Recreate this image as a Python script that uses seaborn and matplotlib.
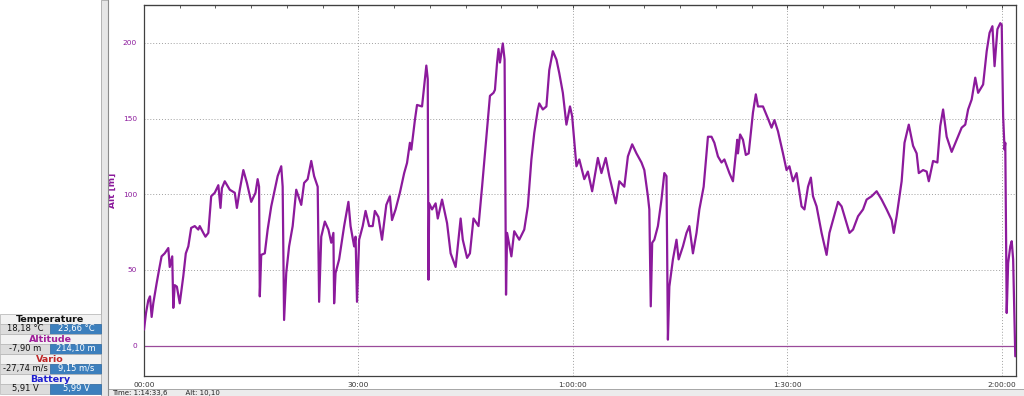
import matplotlib
matplotlib.use("Agg")
import matplotlib.pyplot as plt
import matplotlib.patches as mpatches
from matplotlib.ticker import MultipleLocator
import seaborn as sns
import pandas as pd

# ---- data (time in minutes, altitude in m) ----
minutes = [0.0, 0.28, 0.6, 0.84, 1.07, 1.3, 1.76, 2.14, 2.46, 2.9, 3.4, 3.6, 3.95, 4.1, 4.3, 4.6,
           5.0, 5.5, 5.85, 6.2, 6.6, 7.1, 7.6, 7.8, 8.3, 8.6, 9.0, 9.4, 9.9, 10.4, 10.7, 10.9,
           11.3, 12.0, 12.7, 13.0, 13.4, 13.9, 14.4, 15.0, 15.6, 15.9, 16.1, 16.2, 16.4, 16.9,
           17.3, 17.8, 18.2, 18.7, 19.2, 19.4, 19.6, 19.9, 20.3, 20.8, 21.3, 22.0, 22.4, 22.9,
           23.4, 23.8, 24.3, 24.5, 24.8, 25.3, 25.8, 26.2, 26.5, 26.6, 26.8, 27.3, 28.0, 28.6,
           28.9, 29.4, 29.6, 29.8, 30.1, 30.6, 31.0, 31.5, 32.0, 32.3, 32.8, 33.3, 33.9, 34.4,
           34.7, 35.2, 35.8, 36.4, 36.8, 37.2, 37.4, 37.9, 38.2, 38.9, 39.5, 39.7, 39.8, 39.9,
           40.3, 40.8, 41.1, 41.7, 42.4, 42.9, 43.6, 43.9, 44.3, 44.6, 45.2, 45.6, 46.1, 46.8,
           47.3, 48.0, 48.4, 48.9, 49.1, 49.4, 49.6, 49.8, 50.2, 50.45, 50.65, 50.8, 51.4, 51.8,
           52.5, 53.2, 53.7, 54.2, 54.6, 55.1, 55.3, 55.8, 56.3, 56.7, 57.2, 57.7, 58.1, 58.6,
           59.1, 59.6, 59.9, 60.5, 60.9, 61.6, 62.1, 62.7, 63.5, 64.0, 64.6, 65.1, 66.0, 66.5,
           67.2, 67.7, 68.3, 68.9, 69.6, 70.0, 70.5, 70.7, 70.9, 71.1, 71.4, 71.9, 72.4, 72.8,
           73.1, 73.3, 73.5, 74.0, 74.5, 74.8, 75.4, 75.9, 76.3, 76.8, 77.3, 77.7, 78.3, 78.9,
           79.4, 79.8, 80.3, 80.8, 81.2, 81.9, 82.4, 83.0, 83.1, 83.4, 83.8, 84.2, 84.6, 85.2,
           85.6, 85.9, 86.6, 87.3, 87.8, 88.2, 88.7, 89.4, 89.9, 90.3, 90.8, 91.3, 92.0, 92.4,
           92.9, 93.3, 93.6, 94.1, 94.8, 95.5, 95.9, 96.4, 97.1, 97.6, 98.3, 98.7, 99.2, 99.9,
           100.6, 101.1, 101.8, 102.5, 103.2, 103.9, 104.6, 104.9, 105.3, 106.0, 106.4, 107.0,
           107.6, 108.1, 108.4, 109.0, 109.5, 109.8, 110.4, 111.0, 111.4, 111.8, 112.3, 113.0,
           113.7, 114.4, 114.9, 115.3, 115.8, 116.3, 116.7, 117.4, 117.9, 118.3, 118.7, 119.0,
           119.4, 119.8, 120.0, 120.2, 120.4, 120.5, 120.7, 120.9, 121.2, 121.4, 121.6, 121.9]
altitude = [10.6, 21.6, 30, 32.6, 19, 28, 41, 51, 59, 61, 64.5, 52, 59, 25, 40, 39,
            28, 46, 61, 65.6, 77.8, 79, 76.7, 79, 74.5, 72, 74.5, 98.7, 101, 106, 91, 104,
            108.6, 103, 101, 91, 103, 116, 107.5, 95, 101, 110, 105, 32.6, 60, 61,
            76.7, 92, 101, 112, 118.5, 105, 17, 48, 65.6, 79, 103, 93, 107.5, 110,
            122, 112, 105, 29, 72, 82, 76.7, 68, 74.5, 28, 48, 57, 79, 95,
            79, 65.6, 72, 29, 70, 79, 89, 79, 79, 89, 85, 70, 93, 98.7,
            83, 90, 101, 114, 120.7, 134, 129.5, 149, 159, 158, 185, 176, 43.6, 94,
            90, 94, 84, 96.5, 81, 61, 52, 65.6, 84, 70, 58, 61, 84, 79,
            105, 143, 165, 167, 169, 187, 196, 187, 199.6, 189, 33.7, 74.5, 59, 75.6,
            70, 76.7, 92, 123, 140.5, 156, 160, 156, 158, 182, 194.5, 189, 180, 167,
            146, 158, 151.6, 118.5, 123, 110, 115, 102, 124, 114, 124, 112, 94, 108.6,
            105, 125, 133, 127, 121, 116, 98.7, 90, 26, 68, 70, 79, 96.5, 114,
            112, 4, 39, 57, 70, 57, 65.6, 74.5, 79, 61, 74.5, 90, 105, 138,
            138, 134, 125, 121, 123, 114, 108.6, 136, 127, 139.5, 136, 126, 127, 154,
            166, 158, 158, 150, 144, 149, 141.6, 127, 116, 118.5, 108.6, 114, 92, 90,
            105, 111, 98.7, 92, 74.5, 60, 74.5, 83, 95, 92, 81, 74.5, 76.7, 85.5,
            90, 96.5, 98.7, 102, 96.5, 90, 83, 74.5, 85.5, 108.6, 134, 146,
            132, 127, 114, 116, 115, 108.6, 122, 121, 145, 156, 138, 128,
            136, 144, 146, 156, 162.6, 177, 167, 172.5, 194.5, 206.6, 211, 184.6,
            209, 213, 212, 151.6, 129.5, 134, 21.6, 54.6, 65.6, 69, 57, -7]

x_ticks = [0, 30, 60, 90, 120]
x_tick_labels = ["00:00", "30:00", "1:00:00", "1:30:00", "2:00:00"]
y_ticks = [0, 50, 100, 150, 200]

panel_titles = ["Temperature", "Altitude", "Vario", "Battery"]
panel_title_colors = ["#111111", "#a0209a", "#c02828", "#2020d0"]
panel_min = ["18,18 °C", "-7,90 m", "-27,74 m/s", "5,91 V"]
panel_max = ["23,66 °C", "214,10 m", "9,15 m/s", "5,99 V"]

df = pd.DataFrame({"t": minutes, "alt": altitude})

sns.set_style("white")
plt.rcParams["font.family"] = ["DejaVu Sans"]

W, H = 1024, 396
fig = plt.figure(figsize=(W / 100, H / 100), dpi=100)
fig.patch.set_facecolor("white")

def fx(px):
    return px / W

def fy(py):
    return 1 - py / H

# background chrome: divider and bottom strip
fig.add_artist(mpatches.Rectangle((fx(101), 0), fx(7), 1, transform=fig.transFigure,
                                  facecolor="#e6e6e6", edgecolor="#a8a8a8", lw=0.6))
fig.add_artist(mpatches.Rectangle((fx(108), 0), fx(916), fy(389), transform=fig.transFigure,
                                  facecolor="#ececec", edgecolor="#9a9a9a", lw=0.6))
fig.add_artist(plt.Line2D([fx(108), fx(108)], [0, 1], transform=fig.transFigure,
                          color="#8a8a8a", lw=0.8))
fig.text(fx(112), fy(393), "Time: 1:14:33,6        Alt: 10,10", fontsize=5,
         color="#222222", va="center", ha="left")

# left value panel
row_top = 314
for i, (title, tc, vmin, vmax) in enumerate(zip(panel_titles, panel_title_colors, panel_min, panel_max)):
    y0 = row_top + i * 20
    fig.add_artist(mpatches.Rectangle((0, fy(y0 + 10)), fx(101), 10 / H,
                                      transform=fig.transFigure, facecolor="#f2f2f2",
                                      edgecolor="#b0b0b0", lw=0.5))
    fig.text(fx(50), fy(y0 + 5), title, fontsize=6.8, fontweight="bold", color=tc,
             ha="center", va="center")
    fig.add_artist(mpatches.Rectangle((0, fy(y0 + 19.5)), fx(50), 9.5 / H,
                                      transform=fig.transFigure, facecolor="#dcdcdc",
                                      edgecolor="#b8b8b8", lw=0.5))
    fig.add_artist(mpatches.Rectangle((fx(50), fy(y0 + 19.5)), fx(51), 9.5 / H,
                                      transform=fig.transFigure, facecolor="#3c7fbd",
                                      edgecolor="#2f6aa3", lw=0.5))
    fig.text(fx(25), fy(y0 + 15), vmin, fontsize=6, color="#111111", ha="center", va="center")
    fig.text(fx(76), fy(y0 + 15), vmax, fontsize=6, color="white", ha="center", va="center")

# main axes
ax = fig.add_axes([fx(144), fy(376), fx(1016 - 144), (376 - 5) / H])
ax.set_facecolor("white")
ax.axhline(0, color="#9a4a9a", lw=0.9, zorder=1)
sns.lineplot(data=df, x="t", y="alt", ax=ax, color="#8c1a9c", lw=1.6, zorder=3)

ax.set_xlim(0, 122)
ax.set_ylim(-20, 225)
ax.set_xticks(x_ticks)
ax.set_xticklabels(x_tick_labels)
ax.set_yticks(y_ticks)
ax.xaxis.set_minor_locator(MultipleLocator(5))
ax.yaxis.set_minor_locator(MultipleLocator(10))
ax.grid(True, which="major", color="#a0a0a0", ls=(0, (1, 2)), lw=0.7)
ax.tick_params(axis="both", which="major", direction="inout", length=6, width=0.7,
               color="#404040", labelsize=5.3, pad=2)
ax.tick_params(axis="both", which="minor", direction="inout", length=4, width=0.6,
               color="#404040")
ax.tick_params(axis="y", labelcolor="#8c1a9c")
ax.tick_params(axis="x", labelcolor="#333333", pad=1)

top = ax.secondary_xaxis("top")
top.set_xticks(x_ticks)
top.xaxis.set_minor_locator(MultipleLocator(5))
top.tick_params(which="major", direction="in", length=3, width=0.7, color="#404040",
                labeltop=False)
top.tick_params(which="minor", direction="in", length=2, width=0.6, color="#404040")
top.spines["top"].set_color("#404040")

for s in ax.spines.values():
    s.set_color("#404040")
    s.set_linewidth(0.9)
ax.set_xlabel("")
ax.set_ylabel("Alt [m]", color="#8c1a9c", fontsize=6.5, fontweight="bold", labelpad=4)

fig.savefig("out.png", dpi=100)
